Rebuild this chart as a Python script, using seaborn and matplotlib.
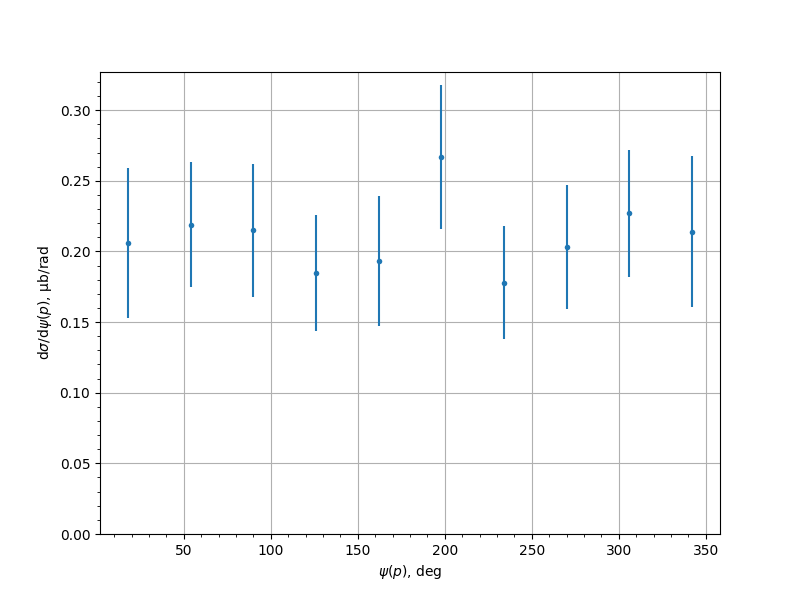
import numpy as np
import pandas as pd
import matplotlib
matplotlib.use("Agg")
import matplotlib.pyplot as plt
import seaborn as sns

# ── Data ────────────────────────────────────────────────
psi    = [18, 54, 90, 126, 162, 198, 234, 270, 306, 342]
dsigma = [0.206, 0.219, 0.215, 0.185, 0.193, 0.267, 0.178, 0.203, 0.227, 0.214]
err    = [0.053, 0.044, 0.047, 0.041, 0.046, 0.051, 0.040, 0.044, 0.045, 0.0535]

df = pd.DataFrame({"psi": psi, "dsigma": dsigma, "err": err})

fig, ax = plt.subplots(figsize=(8, 6), dpi=100)
ax.errorbar(df["psi"], df["dsigma"], yerr=df["err"], fmt="none",
            ecolor="#1f77b4", elinewidth=1.5)
sns.scatterplot(data=df, x="psi", y="dsigma", ax=ax, marker="o",
                s=16, color="#1f77b4", linewidth=0, zorder=3)

ax.set_ylim(bottom=0)
ax.minorticks_on()
ax.grid(True, which="major")
ax.set_xlabel(r"$\psi(p)$, deg")
ax.set_ylabel(r"d$\sigma$/d$\psi(p)$, $\mathrm{\mu}$b/rad")

fig.savefig("out.png", dpi=100)
